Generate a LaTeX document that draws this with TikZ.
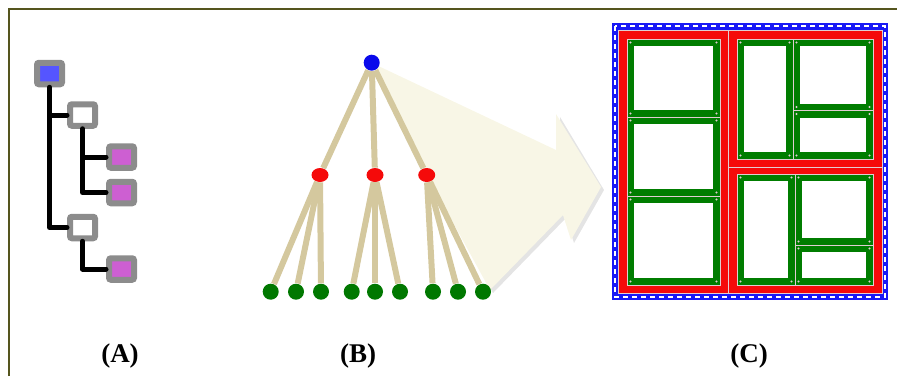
\documentclass[tikz,border=0pt]{standalone}
\usepackage{fontspec}
\setmainfont{Liberation Serif}
\usetikzlibrary{shapes.geometric}
\definecolor{frameolive}{RGB}{85,85,30}
\definecolor{boxgray}{RGB}{140,140,140}
\definecolor{rootblue}{RGB}{85,85,255}
\definecolor{leafpink}{RGB}{205,95,210}
\definecolor{branchtan}{RGB}{212,200,158}
\definecolor{arrowcream}{RGB}{248,246,230}
\definecolor{arrowshade}{RGB}{228,228,228}
\definecolor{nodeblue}{RGB}{10,10,235}
\definecolor{nodered}{RGB}{245,10,10}
\definecolor{nodegreen}{RGB}{0,120,0}
\definecolor{panelblue}{RGB}{25,25,245}
\definecolor{panelred}{RGB}{245,10,10}
\definecolor{panelgreen}{RGB}{0,125,0}
\definecolor{seamline}{RGB}{225,205,210}
\tikzset{
  treebox/.style={rectangle, draw=boxgray, line width=3pt, rounded corners=1pt,
    minimum width=12.5pt, minimum height=10.75pt, inner sep=0pt},
  treeline/.style={black, line width=2.5pt, line cap=round, line join=round},
  ball/.style={circle, minimum size=8pt, inner sep=0pt},
  branch/.style={branchtan, line width=3pt},
  panellabel/.style={font=\fontsize{13.5}{16}\selectfont\bfseries, anchor=base}
}
% green panel with corner dots: x1 y1 x2 y2
\newcommand{\gpanel}[4]{%
  \fill[panelgreen] (#1,#2) rectangle (#3,#4);
  \fill[white] (#1+7,#2+7) rectangle (#3-7,#4-7);
  \draw[seamline, line width=0.5pt] (#1,#2) rectangle (#3,#4);
  \foreach \cx in {#1+3.5,#3-3.5}
    \foreach \cy in {#2+3.5,#4-3.5}
      \fill[seamline] (\cx,\cy) circle (0.6pt);
}
\begin{document}
\begin{tikzpicture}[x=0.5pt, y=-0.5pt]
  \useasboundingbox (0,0) rectangle (897,376);
  \draw[frameolive, line width=1pt] (9,376) -- (9,9) -- (897,9);

  % (A)
  \node[treebox, fill=rootblue] (root) at (49.5,73.5) {};
  \node[treebox, fill=white] (sub1) at (82.5,115) {};
  \node[treebox, fill=leafpink] (leaf1) at (121.5,157) {};
  \node[treebox, fill=leafpink] (leaf2) at (121.5,192.5) {};
  \node[treebox, fill=white] (sub2) at (82.5,227.5) {};
  \node[treebox, fill=leafpink] (leaf3) at (121.5,269) {};
  \draw[treeline] (root.south) |- (sub2.west);
  \draw[treeline] (root.south |- sub1.west) -- (sub1.west);
  \draw[treeline] (sub1.south) |- (leaf2.west);
  \draw[treeline] (sub1.south |- leaf1.west) -- (leaf1.west);
  \draw[treeline] (sub2.south) |- (leaf3.west);

  % (B)
  \fill[arrowshade] (375,66) -- (560,153) -- (560,117) -- (604,190) -- (574,243)
    -- (566,218) -- (493,293) -- (430,178) -- cycle;
  \fill[arrowcream] (372,63) -- (556,150) -- (556,114) -- (601,187) -- (571,240)
    -- (563,215) -- (490,290) -- (427,175) -- cycle;
  \node[ball, fill=nodeblue] (top) at (371.7,62.7) {};
  \foreach \name/\x in {r1/320, r2/375, r3/426.7}
    \node[ellipse, minimum width=8.5pt, minimum height=7pt, inner sep=0pt,
      fill=nodered] (\name) at (\x,175) {};
  \foreach \i/\x in {1/270.7, 2/296, 3/321, 4/351.7, 5/375, 6/400, 7/433, 8/458, 9/483}
    \node[ball, fill=nodegreen] (g\i) at (\x,291.7) {};
  \foreach \i in {1,2,3}
    \draw[branch] (top) -- (r\i);
  \foreach \from/\to in {r1/g1, r1/g2, r1/g3, r2/g4, r2/g5, r2/g6, r3/g7, r3/g8, r3/g9}
    \draw[branch] (\from) -- (\to);

  % (C)
  \fill[panelblue] (612,23) rectangle (888,300);
  \draw[white, line width=0.7pt, dash pattern=on 2.5pt off 2pt] (615,26) rectangle (885,297);
  \fill[panelred] (618,30) rectangle (882,293);
  \draw[seamline, line width=0.5pt] (618,30) rectangle (728,293);
  \draw[seamline, line width=0.5pt] (728,30) rectangle (882,167);
  \draw[seamline, line width=0.5pt] (728,167) rectangle (882,293);
  \gpanel{627}{39}{720}{117}
  \gpanel{627}{117}{720}{196}
  \gpanel{627}{196}{720}{285}
  \gpanel{737}{39}{793}{159}
  \gpanel{793}{39}{873}{110.5}
  \gpanel{793}{110.5}{873}{159}
  \gpanel{737}{174}{795}{285}
  \gpanel{795}{174}{873}{245}
  \gpanel{795}{245}{873}{285}

  \node[panellabel] (labA) at (120,362) {(A)};
  \node[panellabel] (labB) at (358,362) {(B)};
  \node[panellabel] (labC) at (749,362) {(C)};
\end{tikzpicture}
\end{document}
